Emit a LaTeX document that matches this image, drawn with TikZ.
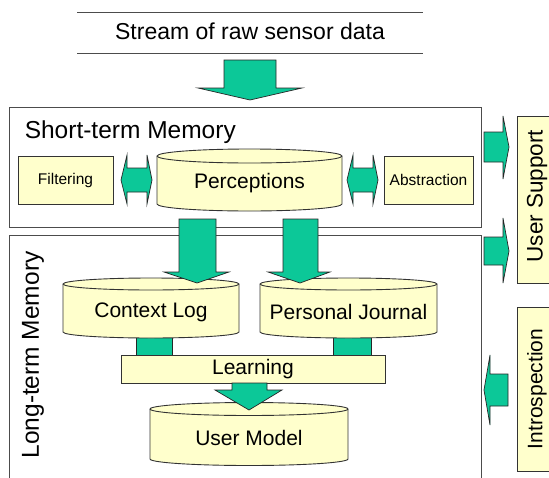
\documentclass[tikz,border=0pt]{standalone}
\usepackage{fontspec}
\setmainfont{Liberation Sans}
\definecolor{flowgreen}{HTML}{0CC898}
\definecolor{boxyellow}{HTML}{FFFFCC}

\begin{document}
\begin{tikzpicture}[x=1pt, y=-1pt, line width=0.9pt,
  memframe/.style={draw=black!70},
  procbox/.style={draw=black!80, fill=boxyellow},
  flow/.style={draw=black!85, fill=flowgreen, line width=0.7pt},
  biglabel/.style={font=\fontsize{24.5}{28}\selectfont},
  lbl/.style={font=\fontsize{21}{25}\selectfont},
  smalllbl/.style={font=\fontsize{15.5}{18}\selectfont}]
  \useasboundingbox (0,0) rectangle (549,477);

  % Raw data header
  \draw[black!70] (77,12) -- (423,12);
  \draw[black!70] (77,53) -- (423,53);
  \node[font=\fontsize{23}{27}\selectfont] (stream) at (250,31) {Stream of raw sensor data};
  \filldraw[flow] (224,60) -- (276,60) -- (276,88) -- (302,88) -- (250,100) -- (198,88) -- (224,88) -- cycle;

  % Memory frames
  \draw[memframe] (9,107) rectangle (481,227);
  \node[biglabel, anchor=base west] (stm) at (21,138) {Short-term Memory};
  \draw[memframe] (9,480) -- (9,235) -- (481,235) -- (481,480);
  \node[biglabel, rotate=90] (ltm) at (33,355) {Long-term Memory};

  % Short-term contents
  \node[procbox, smalllbl, inner sep=0, minimum width=95, minimum height=48] (filt) at (65.5,180) {Filtering};
  \node[procbox, smalllbl, inner sep=0, minimum width=89, minimum height=48] (abstr) at (428.5,180) {Abstraction};
  \filldraw[procbox] (157,156) -- (157,204) arc (180:360:92.5pt and 7pt) -- (342,156) arc (0:180:92.5pt and 7pt) -- cycle;
  \draw[black!80] (157,156) arc (180:360:92.5pt and 7pt);
  \node[lbl] (perc) at (249.5,183) {Perceptions};
  \filldraw[flow] (121,180) -- (127,155) -- (127,168) -- (147,168) -- (147,155) -- (152,180)
    -- (147,204) -- (147,192) -- (127,192) -- (127,204) -- cycle;
  \filldraw[flow] (347,180) -- (353,155) -- (353,168) -- (373,168) -- (373,155) -- (378,180)
    -- (373,204) -- (373,192) -- (353,192) -- (353,204) -- cycle;

  % Long-term contents
  \filldraw[flow] (136,330) rectangle (172,355);
  \filldraw[flow] (333,330) rectangle (371,355);
  \filldraw[procbox] (63,284) -- (63,332) arc (180:360:88pt and 6pt) -- (239,284) arc (0:180:88pt and 6pt) -- cycle;
  \draw[black!80] (63,284) arc (180:360:88pt and 6pt);
  \node[lbl] (ctx) at (151,312) {Context Log};
  \filldraw[procbox] (260,284) -- (260,332) arc (180:360:88.5pt and 6pt) -- (437,284) arc (0:180:88.5pt and 6pt) -- cycle;
  \draw[black!80] (260,284) arc (180:360:88.5pt and 6pt);
  \node[lbl] (journal) at (348.5,312) {Personal Journal};
  \node[procbox, lbl, inner sep=0, minimum width=264, minimum height=28] (learn) at (253,369) {Learning};
  \filldraw[procbox] (150,409) -- (150,459) arc (180:360:99pt and 6.5pt) -- (348,409) arc (0:180:99pt and 6.5pt) -- cycle;
  \draw[black!80] (150,409) arc (180:360:99pt and 6.5pt);
  \node[lbl] (umodel) at (249,438) {User Model};

  % Flows into long-term memory
  \filldraw[flow] (179,219) -- (216,219) -- (216,272) -- (229,272) -- (197,283) -- (164,272) -- (179,272) -- cycle;
  \filldraw[flow] (283,219) -- (318,219) -- (318,272) -- (330,272) -- (300,283) -- (268,272) -- (283,272) -- cycle;
  \filldraw[flow] (232,383) -- (267,383) -- (267,390) -- (282,390) -- (249,410) -- (215,390) -- (232,390) -- cycle;

  % Side boxes
  \fill[boxyellow] (517,116) rectangle (552,283);
  \draw[black!80] (552,116) -- (517,116) -- (517,283) -- (552,283);
  \node[font=\fontsize{22.5}{26}\selectfont, rotate=90] (usup) at (537,196) {User Support};
  \fill[boxyellow] (517,307) rectangle (552,471);
  \draw[black!80] (552,307) -- (517,307) -- (517,471) -- (552,471);
  \node[font=\fontsize{21}{25}\selectfont, rotate=90] (intro) at (537,389) {Introspection};
  \filldraw[flow] (484,132) -- (503,132) -- (503,116) -- (509,147) -- (503,179) -- (503,162) -- (484,162) -- cycle;
  \filldraw[flow] (484,237) -- (503,237) -- (503,218) -- (509,251) -- (503,283) -- (503,265) -- (484,265) -- cycle;
  \filldraw[flow] (508,374) -- (508,406) -- (490,406) -- (490,425) -- (484,390) -- (490,355) -- (490,374) -- cycle;
\end{tikzpicture}
\end{document}
